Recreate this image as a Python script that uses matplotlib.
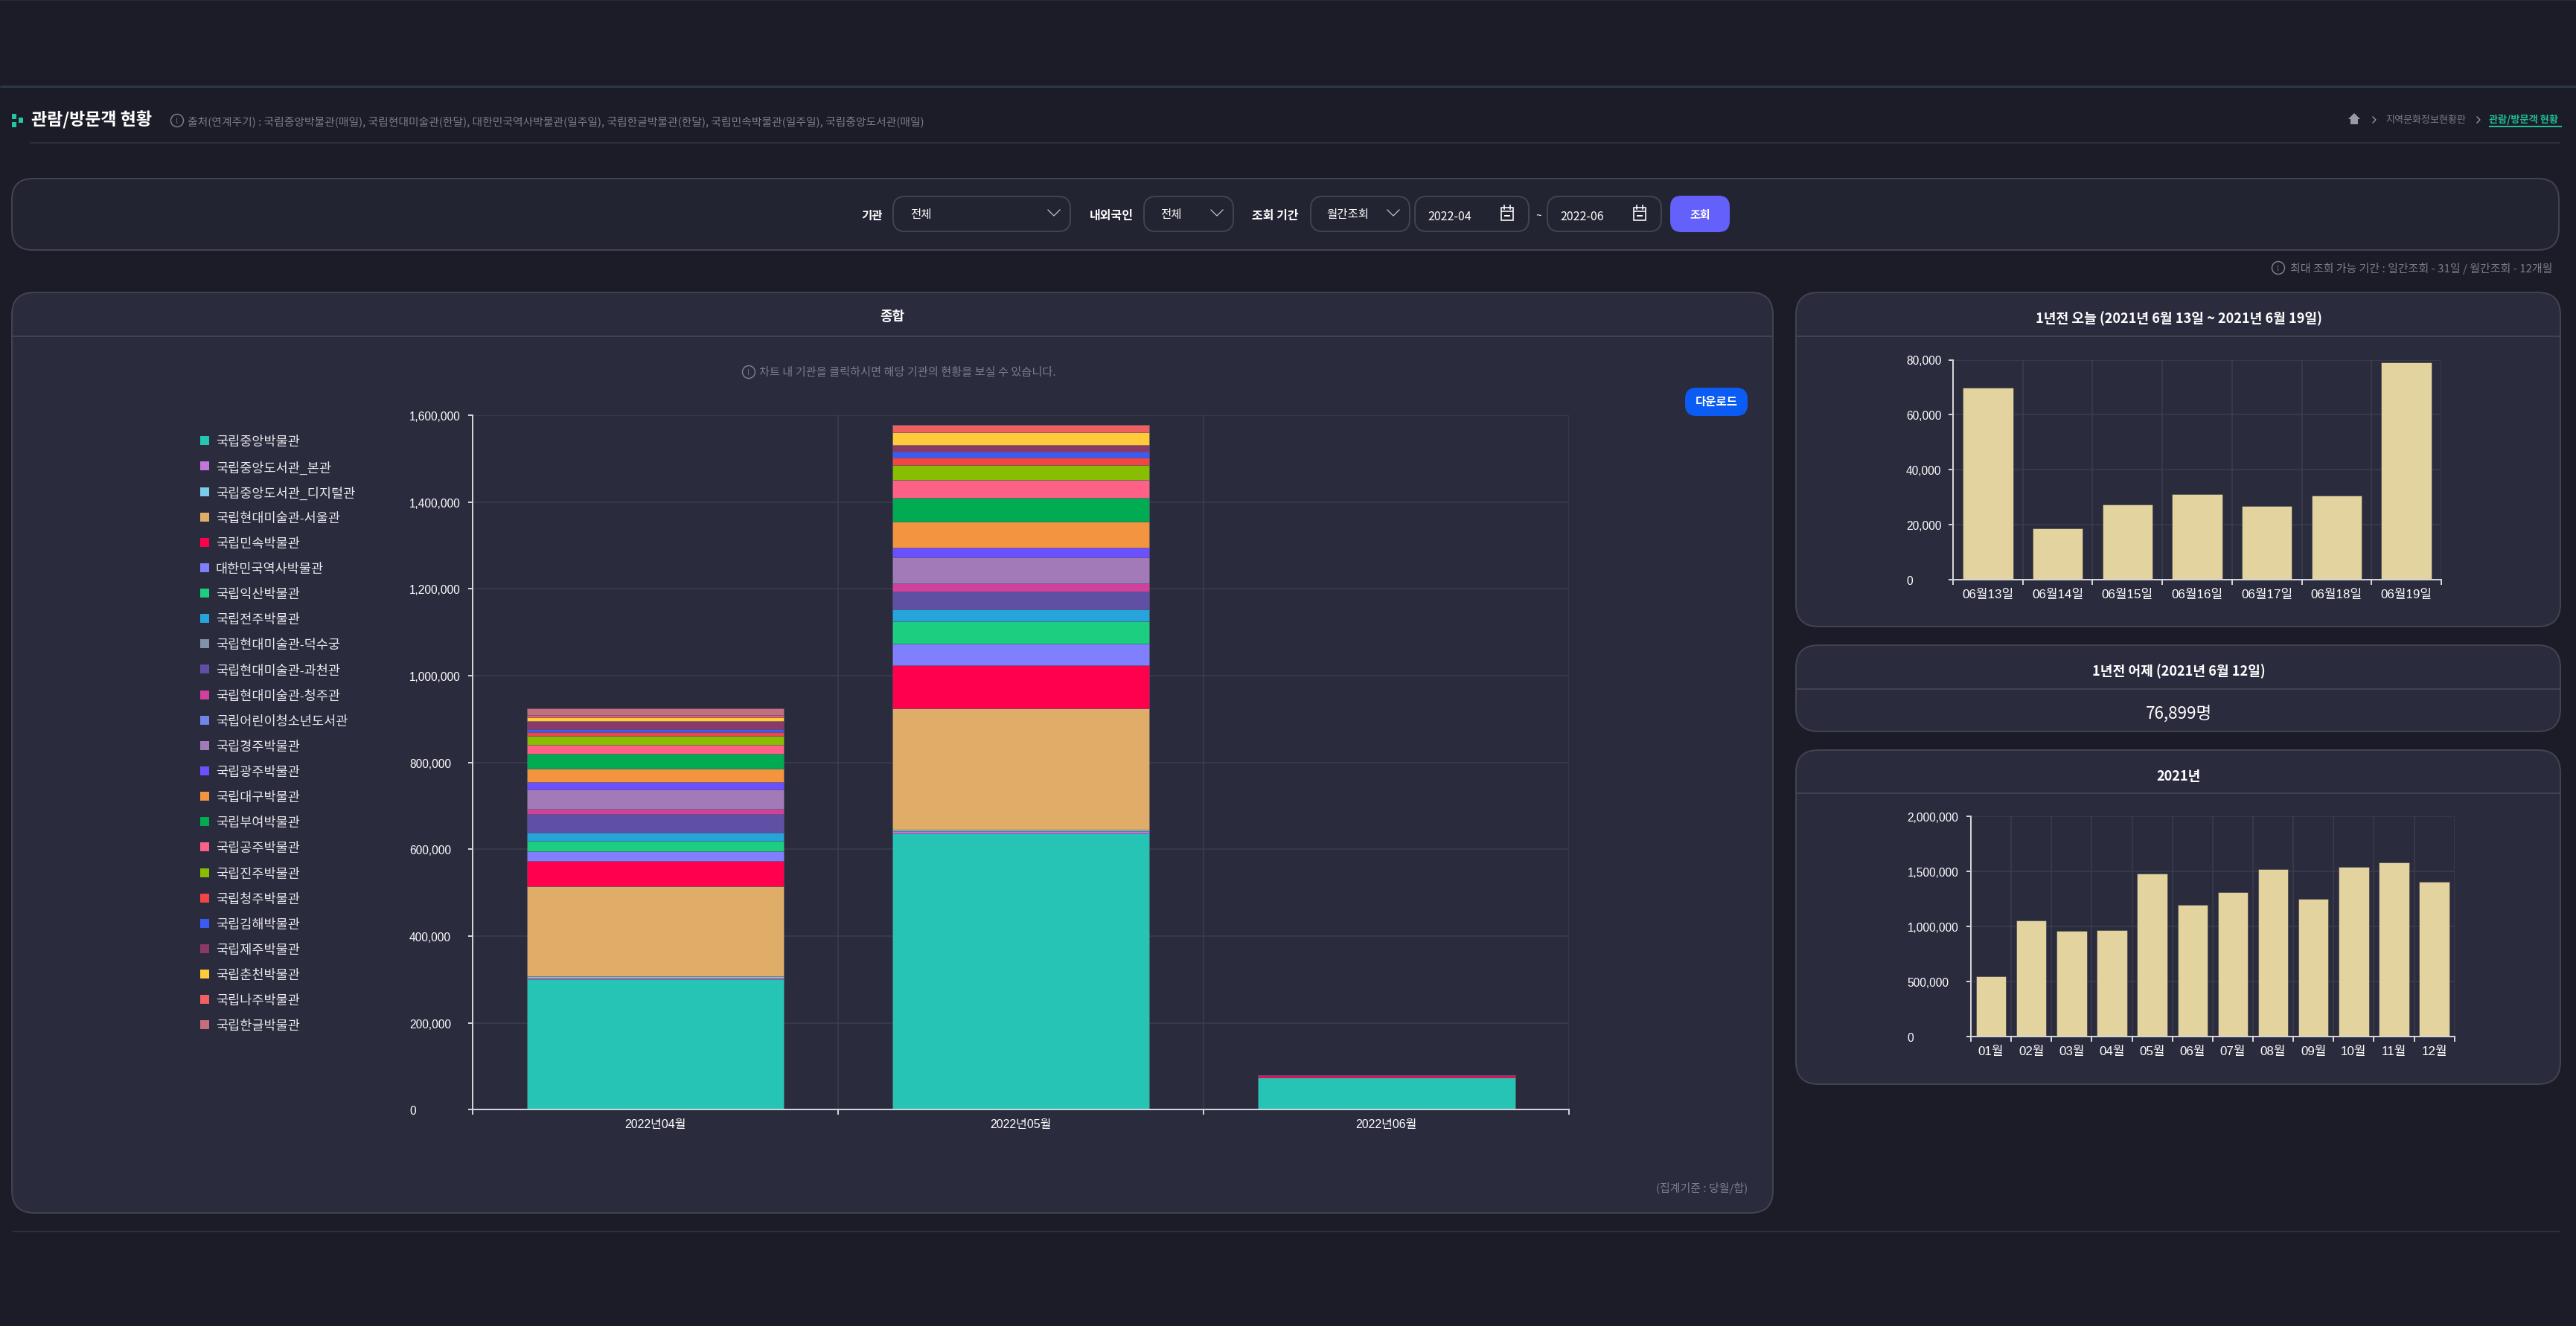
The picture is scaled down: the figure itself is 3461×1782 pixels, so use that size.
import matplotlib
matplotlib.use('Agg')
import matplotlib.pyplot as plt
from matplotlib.patches import FancyBboxPatch, Circle, Rectangle, Polygon
from matplotlib.ticker import FuncFormatter

W, H = 3462, 1783

plt.rcParams['font.family'] = ['Noto Sans CJK KR', 'DejaVu Sans']
CHART_FONT = ['Liberation Sans', 'Noto Sans CJK KR']

# stacked chart data
months = ['2022년04월', '2022년05월', '2022년06월']
museums = ['국립중앙박물관', '국립중앙도서관_본관', '국립중앙도서관_디지털관', '국립현대미술관-서울관',
           '국립민속박물관', '대한민국역사박물관', '국립익산박물관', '국립전주박물관',
           '국립현대미술관-덕수궁', '국립현대미술관-과천관', '국립현대미술관-청주관', '국립어린이청소년도서관',
           '국립경주박물관', '국립광주박물관', '국립대구박물관', '국립부여박물관',
           '국립공주박물관', '국립진주박물관', '국립청주박물관', '국립김해박물관',
           '국립제주박물관', '국립춘천박물관', '국립나주박물관', '국립한글박물관']
museum_colors = ['#25c4b4', '#c377dc', '#7ccbe8', '#e0ad69', '#ff004d', '#8080ff', '#1ccf80', '#26a5dc',
                 '#7f93a8', '#5f50a5', '#cf419c', '#7086e6', '#a37ab8', '#6c50ff', '#f3943f', '#00ab52',
                 '#ff6088', '#88bd00', '#f44545', '#3e5af5', '#8a3a68', '#ffcb3a', '#f06060', '#c46e7e']
apr_values = [300000, 4500, 3400, 206400, 59400, 21100, 24600, 18300, 0, 42900, 12000, 0,
              44600, 18300, 30300, 34900, 20600, 20600, 8600, 6900, 18300, 9100, 5100, 15400]
may_values = [636000, 5100, 4500, 279400, 98900, 49100, 52600, 26900, 0, 41100, 19400, 0,
              60000, 22300, 60000, 54900, 41100, 34300, 16600, 13100, 16600, 29100, 17100, 0]
jun_values = [74200, 0, 0, 0, 5700, 0, 0, 0, 0, 0, 0, 0,
              0, 0, 0, 0, 0, 0, 0, 0, 0, 0, 0, 0]
main_ticks = [0, 200000, 400000, 600000, 800000, 1000000, 1200000, 1400000, 1600000]

# right hand charts
week_labels = ['06월13일', '06월14일', '06월15일', '06월16일', '06월17일', '06월18일', '06월19일']
week_values = [69900, 18700, 27400, 31200, 26800, 30600, 79000]
week_ticks = [0, 20000, 40000, 60000, 80000]
year_labels = ['01월', '02월', '03월', '04월', '05월', '06월', '07월', '08월', '09월', '10월', '11월', '12월']
year_values = [548500, 1054000, 957000, 966000, 1478000, 1198000, 1313000, 1519000, 1252000, 1541000, 1580000, 1408000]
year_ticks = [0, 500000, 1000000, 1500000, 2000000]

PAGE = '#1c1c28'
CARD = '#2a2b3d'
FILTER = '#232432'
BORDER = '#434350'
GRID = '#3c3d4e'
AXIS = '#d4d4d8'
MUTED = '#7d7d8a'
px = 72 / 100  # points per pixel at dpi 100

fig = plt.figure(figsize=(W / 100, H / 100), dpi=100, facecolor=PAGE)
bg = fig.add_axes([0, 0, 1, 1])
bg.set_xlim(0, W)
bg.set_ylim(H, 0)
bg.axis('off')


def box(x0, y0, x1, y1, face, edge=BORDER, r=30, lw=2):
    bg.add_patch(FancyBboxPatch((x0, y0), x1 - x0, y1 - y0, boxstyle='round,pad=0,rounding_size=%d' % r,
                                fc=face, ec=edge, lw=lw * px))


def hline(x0, x1, y, color=BORDER, lw=2):
    bg.plot([x0, x1], [y, y], color=color, lw=lw * px, solid_capstyle='butt')


def label(x, y, s, size=14, color='white', ha='left', **kw):
    bg.text(x, y, s, fontsize=size * px, color=color, ha=ha, va='center', **kw)


def info(x, y):
    bg.add_patch(Circle((x, y), 8.5, fc='none', ec=MUTED, lw=1.5 * px))
    bg.text(x, y, '!', fontsize=10 * px, color=MUTED, ha='center', va='center')


def chevron(x, y):
    bg.plot([x - 8, x, x + 8], [y - 4, y + 4, y - 4], color='#c8c8d0', lw=1.2 * px)


def crumb_arrow(x, y):
    bg.plot([x - 2, x + 2, x - 2], [y - 4, y, y + 4], color='#9a9aa4', lw=1.3 * px)


def calendar(x, y):
    bg.add_patch(Rectangle((x - 8, y - 8), 16, 17, fc='none', ec='white', lw=1.6 * px))
    hline(x - 8, x + 8, y - 3, 'white', 1.6)
    hline(x - 4, x + 4, y + 3, 'white', 2)
    bg.plot([x - 4, x - 4], [y - 11, y - 6], color='white', lw=1.6 * px)
    bg.plot([x + 4, x + 4], [y - 11, y - 6], color='white', lw=1.6 * px)


# page frame
hline(0, W, 117, '#2b3947', 3)
hline(0, W, 1, '#2a2b38', 1)
hline(40, 3440, 193, '#2e2e3a', 2)
hline(16, 3440, 1656, '#2e2e3a', 2)

# page title
for sx, sy in [(16, 154), (16, 165), (25, 159)]:
    bg.add_patch(Rectangle((sx, sy), 6, 7, fc='#1fc8a0', ec='none'))
label(42, 161, '관람/방문객 현황', 23, weight='bold')
info(238, 163)
label(252, 164, '출처(연계주기) : 국립중앙박물관(매일), 국립현대미술관(한달), 대한민국역사박물관(일주일), '
      '국립한글박물관(한달), 국립민속박물관(일주일), 국립중앙도서관(매일)', 14.8, MUTED)

# breadcrumb
bg.add_patch(Polygon([(3155, 161), (3163, 153), (3171, 161), (3168, 161), (3168, 168), (3158, 168), (3158, 161)],
                     fc='#9a9aa4', ec='none'))
crumb_arrow(3190, 162)
label(3205, 161, '지역문화정보현황판', 13, MUTED)
crumb_arrow(3330, 162)
label(3344, 161, '관람/방문객 현황', 13.2, '#1fbf92', weight='bold')
hline(3344, 3442, 171, '#1fbf92', 2)

# filter bar
box(16, 241, 3438, 337, FILTER, r=28)
label(1157, 290, '기관', 15.5, weight='bold')
box(1200, 265, 1438, 312, FILTER, r=16)
label(1223, 289, '전체', 15.5)
chevron(1416, 287)
label(1464, 290, '내외국인', 16, weight='bold')
box(1537, 265, 1657, 312, FILTER, r=16)
label(1559, 289, '전체', 15.5)
chevron(1635, 287)
label(1682, 290, '조회 기간', 16, weight='bold')
box(1761, 265, 1894, 312, FILTER, r=16)
label(1782, 289, '월간조회', 15.5)
chevron(1872, 287)
box(1901, 265, 2054, 312, FILTER, r=16)
label(1918, 291, '2022-04', 16)
calendar(2025, 288)
label(2067, 291, '~', 14, ha='center')
box(2079, 265, 2232, 312, FILTER, r=16)
label(2096, 291, '2022-06', 16)
calendar(2203, 288)
box(2245, 265, 2323, 312, '#6461fb', edge='#6461fb', r=14)
label(2284, 289, '조회', 15, ha='center', weight='bold')
info(3061, 361)
label(3077, 361, '최대 조회 가능 기간 : 일간조회 - 31일 / 월간조회 - 12개월', 15, MUTED)

# cards
box(16, 394, 2382, 1631, CARD)
hline(16, 2382, 453)
box(2413, 394, 3440, 843, CARD)
hline(2413, 3440, 453)
box(2413, 868, 3440, 984, CARD)
hline(2413, 3440, 927)
box(2413, 1009, 3440, 1458, CARD)
hline(2413, 3440, 1067)

label(1199, 426, '종합', 18, ha='center', weight='bold')
info(1006, 501)
label(1020, 501, '차트 내 기관을 클릭하시면 해당 기관의 현황을 보실 수 있습니다.', 15.2, MUTED)
box(2265, 523, 2347, 559, '#0a5cf5', edge='#0a5cf5', r=14)
label(2306, 540, '다운로드', 15.5, ha='center', weight='bold')
label(2348, 1597, '(집계기준 : 당월/합)', 15, MUTED, ha='right')
label(2927, 428, '1년전 오늘 (2021년 6월 13일 ~ 2021년 6월 19일)', 18.2, ha='center', weight='bold')
label(2927, 902, '1년전 어제 (2021년 6월 12일)', 18.2, ha='center', weight='bold')
label(2927, 960, '76,899명', 22.5, ha='center')
label(2927, 1044, '2021년', 18.2, ha='center', weight='bold')

# legend
for i, (name, color) in enumerate(zip(museums, museum_colors)):
    ly = 593.3 + i * 34.13
    bg.add_patch(Rectangle((269.5, ly - 6), 12, 12, fc=color, ec='none'))
    bg.text(290, ly + 1, name, fontsize=17.5 * px, color='#e8e8ec', va='center', family=CHART_FONT)


def make_axes(left, right, top, bottom, ymax, ticks, labels, tick_x, size=16):
    ax = fig.add_axes([left / W, 1 - bottom / H, (right - left) / W, (bottom - top) / H])
    ax.patch.set_visible(False)
    ax.set_xlim(-0.5, len(labels) - 0.5)
    ax.set_ylim(0, ymax)
    for s in ['top', 'right']:
        ax.spines[s].set_visible(False)
    for s in ['left', 'bottom']:
        ax.spines[s].set_color(AXIS)
        ax.spines[s].set_linewidth(2 * px)
    ax.set_axisbelow(True)
    edges = [i - 0.5 for i in range(len(labels) + 1)]
    ax.set_xticks(edges)
    ax.set_xticklabels([])
    ax.set_xticks(range(len(labels)), minor=True)
    ax.set_xticklabels(labels, minor=True, fontsize=size * px, color='white', family=CHART_FONT)
    ax.set_yticks(ticks)
    ax.yaxis.set_major_formatter(FuncFormatter(lambda v, p: format(int(v), ',')))
    ax.tick_params(axis='x', which='major', length=6.5 * px, width=2 * px, color=AXIS)
    ax.tick_params(axis='x', which='minor', length=0, pad=12 * px)
    ax.tick_params(axis='y', length=6 * px, width=2 * px, color=AXIS, pad=(left - 6 - tick_x) * px)
    for t in ax.get_yticklabels():
        t.set_ha('left')
        t.set_fontsize(15.5 * px)
        t.set_color('white')
        t.set_family(CHART_FONT)
    ax.grid(True, which='major', color=GRID, lw=1.5 * px)
    return ax


# main stacked bars
ax1 = make_axes(635, 2108.5, 559, 1492.3, 1600000, main_ticks, months, 550)
bottoms = [0, 0, 0]
for i, name in enumerate(museums):
    vals = [apr_values[i], may_values[i], jun_values[i]]
    ax1.bar(range(3), vals, width=0.703, bottom=bottoms, color=museum_colors[i],
            edgecolor=(0.35, 0.35, 0.45, 0.45), linewidth=1 * px, label=name)
    bottoms = [b + v for b, v in zip(bottoms, vals)]

# last year week
ax2 = make_axes(2624, 3280, 484.5, 780, 80000, week_ticks, week_labels, 2561, size=17)
ax2.bar(range(7), week_values, width=0.72, color='#e3d49f', edgecolor=(0.2, 0.2, 0.25, 0.5), linewidth=1 * px)

# last year months
ax3 = make_axes(2648, 3297.7, 1098.3, 1393.7, 2000000, year_ticks, year_labels, 2562.6, size=17)
ax3.bar(range(12), year_values, width=0.745, color='#e3d49f', edgecolor=(0.2, 0.2, 0.25, 0.5), linewidth=1 * px)

fig.savefig('out.png', dpi=100, facecolor=PAGE)
